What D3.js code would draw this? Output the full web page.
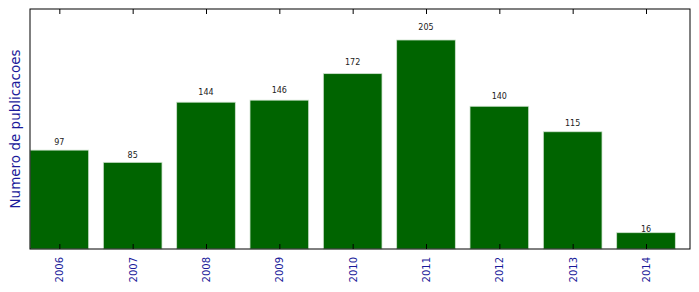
<!DOCTYPE html>
<meta charset="utf-8">
<head>
    <style>
        body { margin: 0; background: white; }
        text { font-family: "DejaVu Sans", sans-serif; }
    </style>
</head>
<body>
    <script src="https://d3js.org/d3.v7.min.js"></script>
    <div id="chart"></div>
    <script>
        // data
        var years = ["2006", "2007", "2008", "2009", "2010", "2011", "2012", "2013", "2014"];
        var counts = [97, 85, 144, 146, 172, 205, 140, 115, 16];

        var margin = { top: 9, right: 9, bottom: 43, left: 30 },
            width = 699 - margin.left - margin.right,
            height = 292 - margin.top - margin.bottom;

        var svg = d3.select("#chart").append("svg")
            .attr("width", 699)
            .attr("height", 292)
            .append("g")
            .attr("transform", "translate(" + margin.left + "," + margin.top + ")");

        // x: index scale, xlim [-0.4, 8.6]
        var x = d3.scaleLinear().domain([-0.4, years.length - 0.4]).range([0, width]);
        var y = d3.scaleLinear().domain([0, 235.4]).range([height, 0]);
        var barW = x(0.8) - x(0);

        // bars
        svg.append("g")
            .selectAll("rect")
            .data(counts)
            .enter()
            .append("rect")
            .attr("x", function (d, i) { return x(i - 0.4); })
            .attr("y", function (d) { return y(d); })
            .attr("width", barW)
            .attr("height", function (d) { return height - y(d); })
            .style("fill", "#006400")
            .style("stroke", "#cfe3cf")
            .style("stroke-width", 0.8);

        // value labels
        svg.append("g")
            .selectAll("text")
            .data(counts)
            .enter()
            .append("text")
            .attr("x", function (d, i) { return x(i); })
            .attr("y", function (d) { return y(d * 1.05); })
            .attr("text-anchor", "middle")
            .style("font-size", "8px")
            .style("fill", "#222")
            .text(function (d) { return d; });

        // bottom axis, inward ticks
        var xb = svg.append("g")
            .attr("transform", "translate(0," + height + ")")
            .call(d3.axisBottom(x).tickValues(d3.range(years.length))
                .tickSize(-5).tickPadding(0)
                .tickFormat(function (i) { return years[i]; }));
        xb.select(".domain").remove();
        xb.selectAll("line").attr("stroke", "#000");
        xb.selectAll("text")
            .attr("transform", "rotate(-90)")
            .attr("text-anchor", "end")
            .attr("x", -8)
            .attr("y", 0)
            .attr("dy", "0.35em")
            .style("font-size", "10px")
            .style("fill", "#1a1a9a");

        // top axis, inward ticks
        var xt = svg.append("g")
            .call(d3.axisTop(x).tickValues(d3.range(years.length))
                .tickSize(-5).tickFormat(""));
        xt.select(".domain").remove();
        xt.selectAll("line").attr("stroke", "#000");

        // frame
        svg.append("rect")
            .attr("x", 0).attr("y", 0)
            .attr("width", width).attr("height", height)
            .style("fill", "none")
            .style("stroke", "#000")
            .style("stroke-width", 1);

        // y-axis label
        svg.append("text")
            .attr("transform", "rotate(-90)")
            .attr("x", -(height / 2) + 0)
            .attr("y", -margin.left + 15)
            .attr("dy", "0.35em")
            .attr("text-anchor", "middle")
            .style("font-size", "13.5px")
            .style("fill", "#1a1a9a")
            .text("Numero de publicacoes");
    </script>
</body>
